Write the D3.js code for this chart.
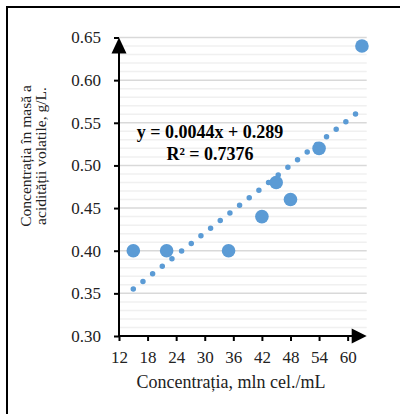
<body style="margin:0;background:#fff">
<script src="https://cdnjs.cloudflare.com/ajax/libs/d3/7.8.5/d3.min.js"></script>
<script>
// concentration (mln cel./mL) vs volatile acidity (g/L)
var xValues = [15, 22, 35, 42, 45, 48, 54, 63];
var yValues = [0.40, 0.40, 0.40, 0.44, 0.48, 0.46, 0.52, 0.64];
var xTicks = [12, 18, 24, 30, 36, 42, 48, 54, 60];
var yTicks = [0.30, 0.35, 0.40, 0.45, 0.50, 0.55, 0.60, 0.65];
var trend = { slope: 0.0044, intercept: 0.289, r2: 0.7376 };

var W = 400, H = 414;
var serif = "'Liberation Serif', 'Times New Roman', serif";
var blue = '#5b9bd5';

const svg = d3.select('body').append('svg')
  .attr('width', W).attr('height', H)
  .style('font-family', serif);

// outer frame (cropped on right/bottom)
svg.append('path')
  .attr('d', 'M7,' + H + 'V7H' + W)
  .attr('fill', 'none').attr('stroke', '#000').attr('stroke-width', 2);

var x = d3.scaleLinear().domain([12, 64]).range([119, 366.7]);
var y = d3.scaleLinear().domain([0.30, 0.65]).range([336, 37.5]);

// gridlines: minor every 0.01, major every 0.05
var minor = d3.range(31, 65).map(d => d / 100).filter(d => Math.round(d * 100) % 5 !== 0);
svg.append('g').selectAll('line').data(minor).join('line')
  .attr('x1', x(12)).attr('x2', x(64))
  .attr('y1', d => y(d)).attr('y2', d => y(d))
  .attr('stroke', '#f0f0f0').attr('stroke-width', 1.5);
svg.append('g').selectAll('line').data(yTicks.slice(1)).join('line')
  .attr('x1', x(12)).attr('x2', x(64))
  .attr('y1', d => y(d)).attr('y2', d => y(d))
  .attr('stroke', '#d9d9d9').attr('stroke-width', 1.5);

// axes
var yAxis = svg.append('g').attr('transform', 'translate(' + x(12) + ',0)')
  .call(d3.axisLeft(y).tickValues(yTicks).tickFormat(d3.format('.2f')).tickSize(5).tickPadding(13));
var xAxis = svg.append('g').attr('transform', 'translate(0,' + y(0.30) + ')')
  .call(d3.axisBottom(x).tickValues(xTicks).tickSize(5).tickPadding(10));
[yAxis, xAxis].forEach(g => {
  g.attr('font-family', null).attr('font-size', null);
  g.select('.domain').remove();
  g.selectAll('line').attr('stroke', '#000').attr('stroke-width', 2);
  g.selectAll('text').style('font-family', serif).style('font-size', '17px').attr('fill', '#222');
});
svg.append('line').attr('x1', x(12)).attr('x2', x(12)).attr('y1', y(0.30) + 1).attr('y2', y(0.65) + 10)
  .attr('stroke', '#000').attr('stroke-width', 2);
svg.append('line').attr('x1', x(12) - 1).attr('x2', x(64) - 10).attr('y1', y(0.30)).attr('y2', y(0.30))
  .attr('stroke', '#000').attr('stroke-width', 2);
// arrow heads
svg.append('path')
  .attr('d', 'M' + x(12) + ',' + y(0.65) + 'l-7.5,16h15z').attr('fill', '#000');
svg.append('path')
  .attr('d', 'M' + x(64) + ',' + y(0.30) + 'l-15,-7.5v15z').attr('fill', '#000');

// points
svg.append('g').selectAll('circle').data(xValues).join('circle')
  .attr('cx', d => x(d)).attr('cy', (d, i) => y(yValues[i]))
  .attr('r', 6.8).attr('fill', blue);

// dotted linear trendline
var tx0 = d3.min(xValues), tx1 = d3.max(xValues);
svg.append('line')
  .attr('x1', x(tx0)).attr('y1', y(trend.intercept + trend.slope * tx0))
  .attr('x2', x(tx1)).attr('y2', y(trend.intercept + trend.slope * tx1))
  .attr('stroke', blue).attr('stroke-width', 5.5)
  .attr('stroke-linecap', 'round').attr('stroke-dasharray', '0 12.3');

// equation
var eq = svg.append('text').attr('text-anchor', 'middle')
  .style('font-size', '18px').attr('font-weight', 'bold').attr('fill', '#000');
eq.append('tspan').attr('x', 210).attr('y', 138)
  .text('y = ' + trend.slope + 'x + ' + trend.intercept);
eq.append('tspan').attr('x', 210).attr('y', 160)
  .text('R² = ' + trend.r2);

// axis titles
svg.append('text').attr('x', 231).attr('y', 388).attr('text-anchor', 'middle')
  .style('font-size', '18px').attr('fill', '#222').text('Concentrația, mln cel./mL');
var yt = svg.append('text').attr('transform', 'translate(0,156) rotate(-90)')
  .attr('text-anchor', 'middle').style('font-size', '15.5px').attr('fill', '#222');
yt.append('tspan').attr('x', 0).attr('y', 31).text('Concentrația în masă a');
yt.append('tspan').attr('x', 0).attr('y', 46).text('acidității volatile, g/L.');
</script>
</body>
